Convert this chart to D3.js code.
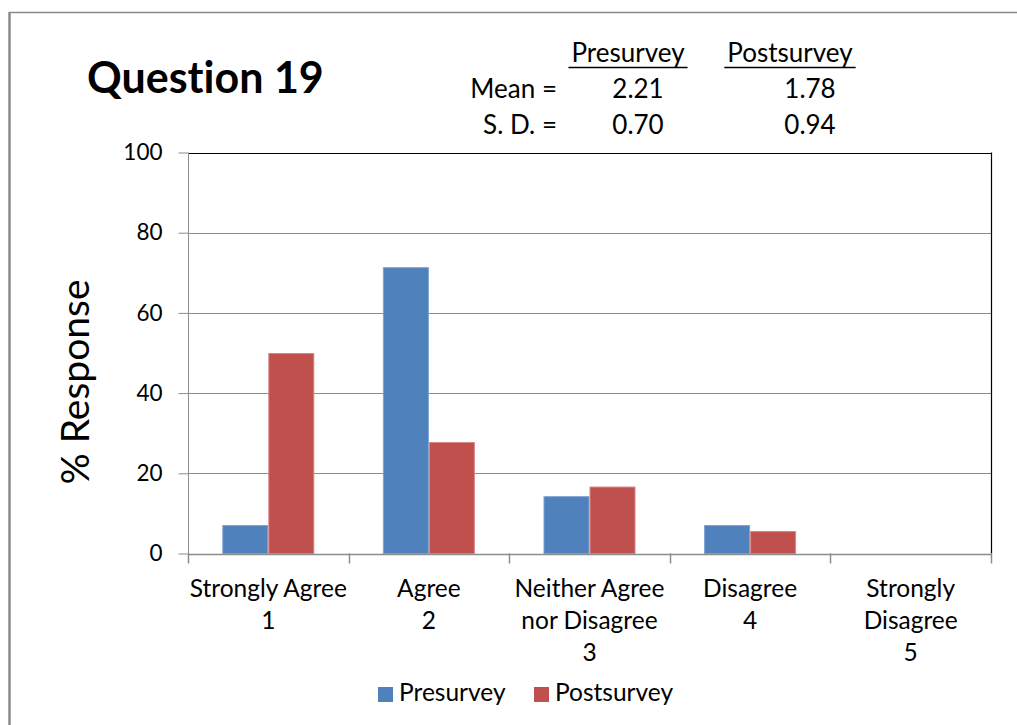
<!DOCTYPE html>
<html>
<head>
<meta charset="utf-8">
<script src="https://cdn.jsdelivr.net/npm/d3@7"></script>
<style>
  html, body { margin: 0; padding: 0; background: #fff; }
  svg { display: block; }
  text { font-family: Lato, "Open Sans", sans-serif; fill: #000; font-variant-ligatures: none; }
</style>
</head>
<body>
<svg id="chart" width="1017" height="725"></svg>
<script>
// Response categories (label lines, then scale value)
const categories = [
  ["Strongly Agree", "1"],
  ["Agree", "2"],
  ["Neither Agree", "nor Disagree", "3"],
  ["Disagree", "4"],
  ["Strongly", "Disagree", "5"]
];
const seriesNames = ["Presurvey", "Postsurvey"];
const presurvey = [7.1, 71.4, 14.3, 7.1, 0];
const postsurvey = [50.0, 27.8, 16.7, 5.6, 0];
const yTicks = [0, 20, 40, 60, 80, 100];
const statLabels = ["Mean =", "S. D. ="];
const preStats = ["2.21", "0.70"];
const postStats = ["1.78", "0.94"];
const colors = ["#4F81BD", "#C0504D"];
const edgeColors = ["#7EA2D3", "#D98785"];

const svg = d3.select("#chart");
const W = 1017, H = 725;
const plot = { left: 188, right: 991, top: 152.5, bottom: 553.5 };

// Outer frame (top and left edges)
svg.append("line").attr("x1", 9).attr("x2", W).attr("y1", 12.5).attr("y2", 12.5)
  .attr("stroke", "#8a8a8a").attr("stroke-width", 1.5);
svg.append("line").attr("x1", 9.5).attr("x2", 9.5).attr("y1", 12).attr("y2", H)
  .attr("stroke", "#8a8a8a").attr("stroke-width", 2.5);

const idx = d3.range(categories.length);
const x = d3.scaleBand().domain(idx).range([plot.left, plot.right]).paddingInner(0).paddingOuter(0);
const y = d3.scaleLinear().domain([0, 100]).range([plot.bottom, plot.top]);
const groupFrac = 92 / x.bandwidth();
const xs = d3.scaleBand().domain([0, 1])
  .range([x.bandwidth() * (1 - groupFrac) / 2, x.bandwidth() * (1 + groupFrac) / 2]);

// Gridlines
svg.append("g").selectAll("line").data(yTicks.filter(t => t > 0 && t < 100)).join("line")
  .attr("x1", plot.left).attr("x2", plot.right)
  .attr("y1", d => Math.round(y(d)) + 0.5).attr("y2", d => Math.round(y(d)) + 0.5)
  .attr("stroke", "#8c8c8c").attr("stroke-width", 1);

// Plot border top and right
svg.append("line").attr("x1", plot.left).attr("x2", plot.right + 1)
  .attr("y1", Math.round(y(100)) + 0.5).attr("y2", Math.round(y(100)) + 0.5)
  .attr("stroke", "#000").attr("stroke-width", 1);
svg.append("line").attr("x1", plot.right + 0.5).attr("x2", plot.right + 0.5)
  .attr("y1", y(100)).attr("y2", y(0))
  .attr("stroke", "#000").attr("stroke-width", 1.2);

// Bars
const series = [presurvey, postsurvey];
series.forEach((vals, s) => {
  svg.append("g").selectAll("rect").data(vals).join("rect")
    .filter(d => d > 0)
    .attr("x", (d, i) => x(i) + xs(s) + 0.5)
    .attr("width", xs.bandwidth() - 1)
    .attr("y", d => y(d) + 0.5)
    .attr("height", d => y(0) - y(d) - 0.5)
    .attr("fill", colors[s])
    .attr("stroke", edgeColors[s]).attr("stroke-width", 1);
});

// Y axis
const yAxis = d3.axisLeft(y).tickValues(yTicks).tickSize(10).tickPadding(16);
const gy = svg.append("g").attr("transform", `translate(${plot.left + 0.5},0)`).call(yAxis);
gy.select(".domain").attr("stroke", "#8c8c8c").attr("d", `M0,${y(100)}V${y(0) + 9}`);
gy.selectAll(".tick line").attr("stroke", "#8c8c8c");
gy.selectAll(".tick text").attr("font-size", 22.5).attr("fill", "#111")
  .style("font-family", "Lato, sans-serif");

// X axis with ticks on category boundaries
const bounds = d3.range(categories.length + 1).map(i => plot.left + i * x.bandwidth());
svg.append("line").attr("x1", plot.left).attr("x2", plot.right + 1)
  .attr("y1", Math.round(y(0)) + 0.5).attr("y2", Math.round(y(0)) + 0.5)
  .attr("stroke", "#8c8c8c").attr("stroke-width", 1.5);
svg.append("g").selectAll("line").data(bounds).join("line")
  .attr("x1", d => Math.round(d) + 0.5).attr("x2", d => Math.round(d) + 0.5)
  .attr("y1", y(0)).attr("y2", y(0) + 10)
  .attr("stroke", "#8c8c8c").attr("stroke-width", 1.5);

// Category labels
const catG = svg.append("g");
categories.forEach((lines, i) => {
  const t = catG.append("text").attr("text-anchor", "middle")
    .attr("x", x(i) + x.bandwidth() / 2).attr("y", 597)
    .attr("font-size", 24.5).attr("fill", "#111");
  lines.forEach((ln, k) => {
    t.append("tspan").attr("x", x(i) + x.bandwidth() / 2).attr("dy", k === 0 ? 0 : 32).text(ln);
  });
});

// Y axis title
svg.append("text").attr("transform", "translate(89,382) rotate(-90)")
  .attr("text-anchor", "middle").attr("font-size", 39).text("% Response");

// Chart title
svg.append("text").attr("x", 87).attr("y", 93)
  .attr("font-size", 43).attr("font-weight", "bold").text("Question 19");

// Summary statistics table
const colX = [628, 790];
seriesNames.forEach((name, s) => {
  const t = svg.append("text").attr("x", colX[s]).attr("y", 62)
    .attr("text-anchor", "middle").attr("font-size", 26).attr("fill", "#111").text(name);
  const wdt = t.node().getComputedTextLength();
  svg.append("line").attr("x1", colX[s] - wdt / 2 - 3).attr("x2", colX[s] + wdt / 2 + 3)
    .attr("y1", 67.5).attr("y2", 67.5).attr("stroke", "#000").attr("stroke-width", 1.6);
});
const statY = [98, 134];
statLabels.forEach((lab, r) => {
  svg.append("text").attr("x", 557).attr("y", statY[r]).attr("text-anchor", "end")
    .attr("font-size", 26).attr("fill", "#111").text(lab);
  svg.append("text").attr("x", 638).attr("y", statY[r]).attr("text-anchor", "middle")
    .attr("font-size", 26).attr("fill", "#111").text(preStats[r]);
  svg.append("text").attr("x", 810).attr("y", statY[r]).attr("text-anchor", "middle")
    .attr("font-size", 26).attr("fill", "#111").text(postStats[r]);
});

// Legend
const legX = [378, 534];
seriesNames.forEach((name, s) => {
  svg.append("rect").attr("x", legX[s]).attr("y", 687).attr("width", 15).attr("height", 15)
    .attr("fill", colors[s]);
  svg.append("text").attr("x", legX[s] + 21).attr("y", 701)
    .attr("font-size", 24.5).attr("fill", "#111").text(name);
});
</script>
</body>
</html>
